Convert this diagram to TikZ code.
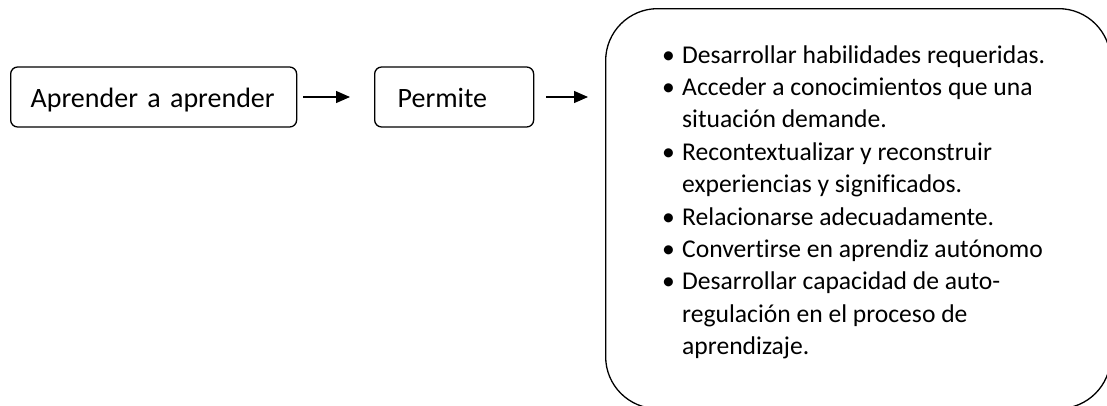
\documentclass[tikz,border=0pt]{standalone}
\usepackage{fontspec}
\setmainfont{Carlito}[Ligatures=NoCommon]
\usetikzlibrary{arrows.meta}
\begin{document}
\begin{tikzpicture}[x=1pt,y=-1pt,
  smallbox/.style={draw, rounded corners=7pt, line width=1.3pt, minimum height=60pt,
    inner xsep=23pt, inner ysep=0pt, align=left, font=\fontsize{28}{34}\selectfont,
    text height=20pt, text depth=0pt, anchor=west},
  bigbox/.style={draw, rounded corners=52pt, line width=1.3pt, minimum width=505pt,
    minimum height=400pt, anchor=north west, inner sep=0pt},
  link/.style={-{Triangle[length=14pt,width=12pt]}, line width=1.3pt}]
\useasboundingbox (0,0) rectangle (1107,405);
\clip (0,0) rectangle (1107,405);
\node[smallbox, inner xsep=20pt, text width=246pt] (b1) at (10,97) {Aprender a aprender};
\node[smallbox, text width=113pt] (b2) at (374,97) {Permite};
\node[bigbox] (big) at (605,8) {};
\node[anchor=base west, inner sep=0pt, font=\fontsize{25.6}{32.4}\selectfont] (list) at (662,63)
{\begin{tabular}[t]{@{}l@{}l@{}}
\makebox[20pt][l]{•} & Desarrollar habilidades requeridas.\\
\makebox[20pt][l]{•} & Acceder a conocimientos que una\\
 & situación demande.\\
\makebox[20pt][l]{•} & Recontextualizar y reconstruir\\
 & experiencias y significados.\\
\makebox[20pt][l]{•} & Relacionarse adecuadamente.\\
\makebox[20pt][l]{•} & Convertirse en aprendiz autónomo\\
\makebox[20pt][l]{•} & Desarrollar capacidad de auto-\\
 & regulación en el proceso de\\
 & aprendizaje.
\end{tabular}};
\draw[link, shorten <=6pt, shorten >=24pt] (b1.east) -- (b2.west);
\draw[link, shorten <=12pt, shorten >=17pt] (b2.east) -- (b2.east -| big.west);
\end{tikzpicture}
\end{document}
